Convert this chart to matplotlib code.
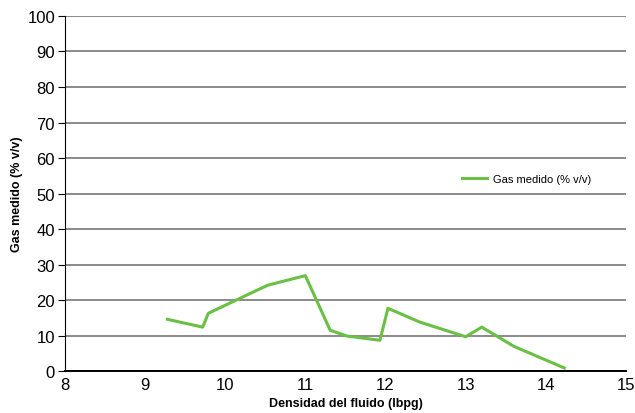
import matplotlib
matplotlib.use('Agg')
import matplotlib.pyplot as plt

# densidad del fluido (lbpg) vs gas medido (% v/v)
densidad = [9.28, 9.72, 9.79, 10.53, 11.0, 11.31, 11.52, 11.93, 12.03, 12.43, 13.0, 13.2, 13.6, 14.23]
gas = [14.6, 12.4, 16.3, 24.2, 26.9, 11.5, 9.9, 8.7, 17.7, 13.8, 9.7, 12.4, 7.0, 0.9]

x_ticks = [8, 9, 10, 11, 12, 13, 14, 15]
y_ticks = [0, 10, 20, 30, 40, 50, 60, 70, 80, 90, 100]

plt.rcParams['font.family'] = ['Liberation Sans', 'DejaVu Sans']

fig = plt.figure(figsize=(6.35, 4.14), dpi=100)
ax = fig.add_axes([0.102, 0.101, 0.884, 0.858])

ax.plot(densidad, gas, color='#6abf45', lw=2.2, label='Gas medido (% v/v)')

ax.set_xlim(8, 15)
ax.set_ylim(0, 100)
ax.set_xticks(x_ticks)
ax.set_yticks(y_ticks)
ax.yaxis.grid(True, color='#777777', lw=1.2)
ax.set_axisbelow(True)
for s in ['top', 'right']:
	ax.spines[s].set_visible(False)
ax.spines['left'].set_color('black')
ax.spines['bottom'].set_color('black')
ax.spines['bottom'].set_linewidth(1.4)
ax.tick_params(axis='x', length=0, pad=4, labelsize=12)
ax.tick_params(axis='y', length=5, direction='out', pad=2, labelsize=12)

ax.set_xlabel('Densidad del fluido (lbpg)', fontsize=9, fontweight='bold', labelpad=4)
ax.set_ylabel('Gas medido (% v/v)', fontsize=9, fontweight='bold', labelpad=3)

ax.legend(loc='center left', bbox_to_anchor=(0.69, 0.54), frameon=False, fontsize=8,
	handlelength=2.2, handletextpad=0.6)

fig.savefig('out.png', dpi=100)
